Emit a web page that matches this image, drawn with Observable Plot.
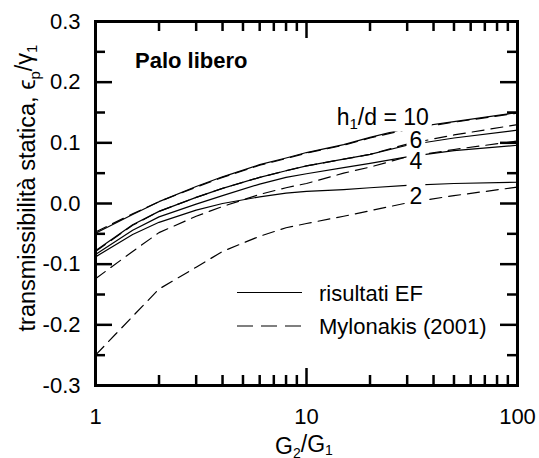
<!DOCTYPE html>
<html><head><meta charset="utf-8">
<script src="https://cdn.jsdelivr.net/npm/d3@7"></script>
<script src="https://cdn.jsdelivr.net/npm/@observablehq/plot@0.6"></script>
<style>
body{margin:0;background:#fff}
svg{font-family:"Liberation Sans",Arial,Helvetica,sans-serif}
</style>
</head><body><div id="chart"></div>
<script>
// G2/G1 sample points
const G = [1, 1.5, 2, 3, 4, 6, 8, 10, 15, 20, 30, 50, 100];
// h1/d values
const H = [2, 4, 6, 10];
// FE results (risultati EF)
const ef2  = [-0.088,-0.051,-0.031,-0.011,0.000,0.011,0.017,0.020,0.023,0.026,0.030,0.033,0.035];
const ef4  = [-0.084,-0.044,-0.022,-0.001,0.013,0.032,0.043,0.049,0.059,0.066,0.077,0.087,0.096];
const ef6  = [-0.078,-0.035,-0.013,0.010,0.025,0.043,0.054,0.062,0.073,0.081,0.096,0.108,0.121];
const ef10 = [-0.049,-0.018,0.003,0.028,0.044,0.064,0.075,0.084,0.097,0.109,0.124,0.135,0.150];
// Mylonakis (2001)
const my2  = [-0.250,-0.186,-0.141,-0.105,-0.079,-0.054,-0.040,-0.033,-0.021,-0.012,0.001,0.013,0.027];
const my4  = [-0.124,-0.079,-0.048,-0.021,-0.005,0.015,0.026,0.033,0.050,0.060,0.077,0.089,0.103];
const my6  = [-0.079,-0.036,-0.013,0.010,0.025,0.043,0.054,0.062,0.073,0.081,0.098,0.113,0.130];
const my10 = [-0.047,-0.017,0.003,0.027,0.043,0.063,0.074,0.083,0.096,0.108,0.122,0.134,0.149];
// curve labels
const labelText = ["h1/d = 10", "6", "4", "2"];
const labelX = [38, 33, 33, 33];
const labelY = [0.1417, 0.1038, 0.0692, 0.0115];
// ticks
const yMajor = [-0.3, -0.2, -0.1, 0, 0.1, 0.2, 0.3];
const yMinor = [-0.25, -0.15, -0.05, 0.05, 0.15, 0.25];
const xMajor = [1, 10, 100];
const xMinor = [2, 3, 4, 5, 6, 7, 8, 9, 20, 30, 40, 50, 60, 70, 80, 90];
// texts
const title = "Palo libero";
const legendText = ["risultati EF", "Mylonakis (2001)"];

const efSeries = [ef2, ef4, ef6, ef10];
const mySeries = [my2, my4, my6, my10];
const efRows = H.flatMap((h, k) => G.map((g, i) => ({g, v: efSeries[k][i], h})));
const myRows = H.flatMap((h, k) => G.map((g, i) => ({g, v: mySeries[k][i], h})));
const labels = labelText.map((t, i) => ({t, x: labelX[i], y: labelY[i]}));

const FONT = "Liberation Sans, Arial, Helvetica, sans-serif";
const W = 539, HT = 458, ML = 95, MR = 22, MT = 21, MB = 73;
const PW = W - ML - MR, PH = HT - MT - MB;
const tickStyle = {stroke: "black", strokeWidth: 2.5};

const svg = Plot.plot({
  width: W, height: HT,
  marginLeft: ML, marginRight: MR, marginTop: MT, marginBottom: MB,
  style: {fontFamily: FONT, fontSize: "22px", color: "black", background: "white"},
  x: {type: "log", domain: [1, 100], axis: null},
  y: {domain: [-0.3, 0.3], axis: null},
  marks: [
    Plot.line(efRows, {x: "g", y: "v", z: "h", stroke: "black", strokeWidth: 1.2}),
    Plot.line(myRows, {x: "g", y: "v", z: "h", stroke: "black", strokeWidth: 1.2, strokeDasharray: "12,7"}),
    Plot.text(labels.slice(0, 1), {x: "x", y: "y", text: "t", textAnchor: "end", fontSize: 23, fill: "black", className: "lab"}),
    Plot.text(labels.slice(1), {x: "x", y: "y", text: "t", textAnchor: "middle", fontSize: 23, fill: "black", className: "lab"}),
    // inward ticks on all four sides
    Plot.tickY(yMajor, {y: d => d, insetRight: PW - 17, ...tickStyle}),
    Plot.tickY(yMinor, {y: d => d, insetRight: PW - 10, ...tickStyle}),
    Plot.tickY(yMajor, {y: d => d, insetLeft: PW - 17, ...tickStyle}),
    Plot.tickY(yMinor, {y: d => d, insetLeft: PW - 10, ...tickStyle}),
    Plot.tickX(xMajor, {x: d => d, insetTop: PH - 17, ...tickStyle}),
    Plot.tickX(xMinor, {x: d => d, insetTop: PH - 10, ...tickStyle}),
    Plot.tickX(xMajor, {x: d => d, insetBottom: PH - 17, ...tickStyle}),
    Plot.tickX(xMinor, {x: d => d, insetBottom: PH - 10, ...tickStyle}),
    Plot.frame({stroke: "black", strokeWidth: 3}),
    Plot.axisY(yMajor, {anchor: "left", tickSize: 0, tickPadding: 15, tickFormat: d => d.toFixed(1), label: null, fontSize: 22}),
    Plot.axisX(xMajor, {anchor: "bottom", tickSize: 0, tickPadding: 23, tickFormat: d => String(d), label: null, fontSize: 22})
  ]
});

document.getElementById("chart").appendChild(svg);
const root = d3.select(svg);

// subscript in the h1/d label
root.selectAll("text").filter(function() { return this.textContent === labelText[0]; })
  .each(function() {
    const t = d3.select(this);
    t.text(null);
    t.append("tspan").text("h");
    t.append("tspan").attr("dy", "0.3em").attr("font-size", "15").text("1");
    t.append("tspan").attr("dy", "-0.2em").text("/d = 10");
  });

// white gaps behind the curve labels
root.selectAll("g.lab").each(function() {
  const g = this;
  d3.select(g).selectAll("text").each(function() {
    const b = this.getBBox();
    d3.select(g).insert("rect", "text")
      .attr("x", b.x - 3).attr("y", b.y + 1).attr("width", b.width + 6).attr("height", b.height - 2)
      .attr("fill", "white").attr("transform", this.getAttribute("transform"));
  });
});

// title
root.append("text").attr("x", 135).attr("y", 68).attr("font-size", 22).attr("font-weight", "bold")
  .attr("text-anchor", "start").attr("fill", "black").text(title);

// legend
const lg = root.append("g");
lg.append("line").attr("x1", 237).attr("x2", 302).attr("y1", 292.5).attr("y2", 292.5).attr("stroke", "black").attr("stroke-width", 1.2);
lg.append("line").attr("x1", 237).attr("x2", 302).attr("y1", 326).attr("y2", 326).attr("stroke", "black").attr("stroke-width", 1.2).attr("stroke-dasharray", "16,8");
lg.append("text").attr("x", 319).attr("y", 300.5).attr("font-size", 22).attr("text-anchor", "start").attr("fill", "black").text(legendText[0]);
lg.append("text").attr("x", 319).attr("y", 333.5).attr("font-size", 22).attr("text-anchor", "start").attr("fill", "black").text(legendText[1]);

// y label
const yl = root.append("text").attr("transform", "translate(35,188) rotate(-90)")
  .attr("text-anchor", "middle").attr("font-size", 23.5).attr("fill", "black");
yl.append("tspan").text("transmissibilità statica, \u03F5");
yl.append("tspan").attr("dy", "0.3em").attr("font-size", 15).text("p");
yl.append("tspan").attr("dy", "-0.3em").text("/\u03B3");
yl.append("tspan").attr("dy", "0.3em").attr("font-size", 15).text("1");

// x label
const xl = root.append("text").attr("x", 304).attr("y", 454).attr("text-anchor", "middle")
  .attr("font-size", 23).attr("fill", "black");
xl.append("tspan").text("G");
xl.append("tspan").attr("dy", "0.25em").attr("font-size", 14).text("2");
xl.append("tspan").attr("dy", "-0.25em").text("/G");
xl.append("tspan").attr("dy", "0.25em").attr("font-size", 14).text("1");
</script>
</body></html>
